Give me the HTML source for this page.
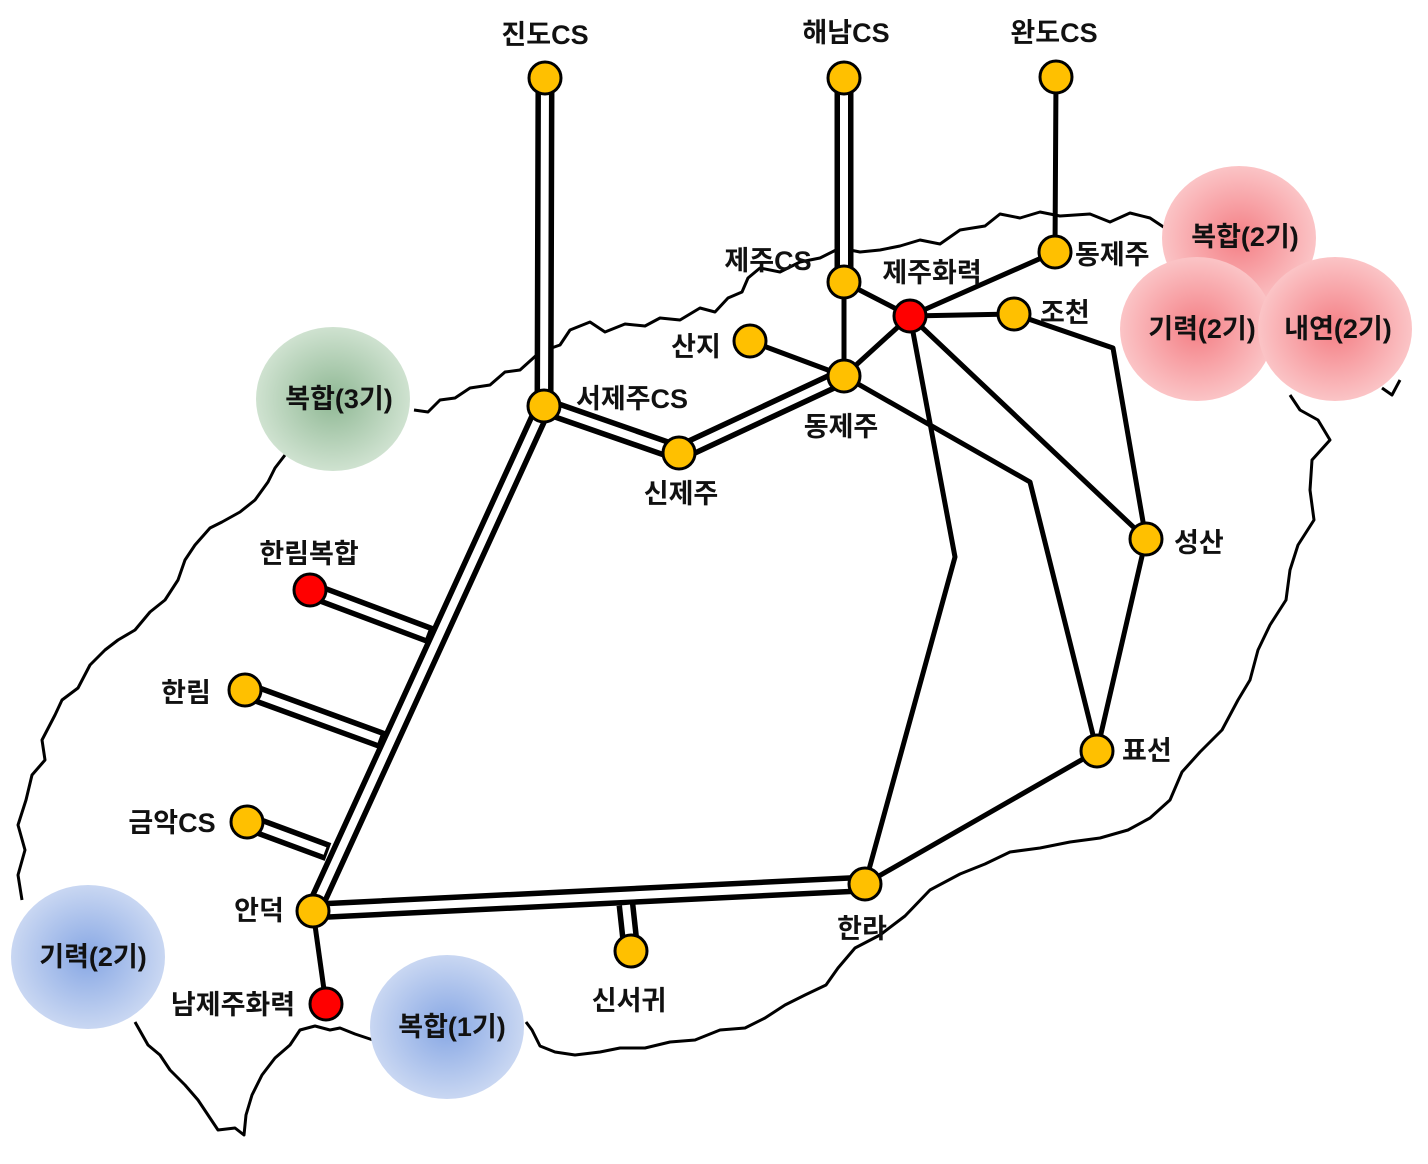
<!DOCTYPE html>
<html><head><meta charset="utf-8"><style>
html,body{margin:0;padding:0;background:#fff}
svg text{font-family:"Liberation Sans","Noto Sans CJK KR",sans-serif;font-weight:bold;font-size:27px;fill:#111}
</style></head><body>
<svg width="1428" height="1159" viewBox="0 0 1428 1159" xmlns="http://www.w3.org/2000/svg">
<defs>
<radialGradient id="gg"><stop offset="0" stop-color="#8fb894"/><stop offset="1" stop-color="#cfe2d0"/></radialGradient>
<radialGradient id="pg"><stop offset="0" stop-color="#f47f85"/><stop offset="1" stop-color="#fbc4c6"/></radialGradient>
<radialGradient id="bg"><stop offset="0" stop-color="#87a7e4"/><stop offset="1" stop-color="#c9d7f2"/></radialGradient>
</defs>
<g fill="none" stroke="#000" stroke-width="3" stroke-linejoin="round">
<path d="M414,410 L428,412 440,400 455,398 470,388 490,385 505,372 520,370 540,352 560,345 570,330 590,322 605,332 625,324 645,326 660,318 680,320 700,308 715,312 728,298 742,292 748,278 760,268 780,272 800,262 820,258 840,248 860,252 880,250 900,246 920,240 940,244 960,230 985,226 1000,214 1020,218 1040,212 1060,216 1090,214 1110,222 1130,213 1150,218 1165,228"/>
<path d="M1290,395 L1300,410 1318,420 1330,440 1312,460 1310,490 1314,520 1298,545 1290,570 1286,600 1270,625 1258,650 1250,680 1238,700 1222,730 1200,752 1182,772 1170,800 1150,818 1128,830 1100,838 1070,842 1040,848 1010,852 985,864 960,874 930,890 905,916 880,935 855,948 838,968 826,985 805,995 785,1005 765,1018 745,1028 720,1030 695,1040 670,1042 645,1048 620,1048 600,1052 575,1055 555,1052 540,1046 532,1030 526,1022"/>
<path d="M373,1040 L355,1034 340,1028 330,1030 315,1026 300,1030 290,1045 275,1058 262,1075 252,1095 246,1115 244,1135 235,1128 218,1130 208,1115 198,1100 185,1085 170,1070 160,1055 148,1045 135,1022"/>
<path d="M22,900 L18,875 25,850 18,825 26,800 32,775 45,760 42,740 55,715 62,700 78,688 90,665 105,650 118,640 135,630 150,612 165,600 178,580 185,560 195,545 210,528 222,522 240,512 255,500 268,482 275,468 285,455"/>
<path d="M1400,380 L1392,395 1382,388"/>
</g>
<ellipse cx="333" cy="399" rx="77" ry="72" fill="url(#gg)"/>
<ellipse cx="1239" cy="238" rx="77" ry="72" fill="url(#pg)"/>
<ellipse cx="1197" cy="329" rx="77" ry="72" fill="url(#pg)"/>
<ellipse cx="1335" cy="329" rx="77" ry="72" fill="url(#pg)"/>
<ellipse cx="88" cy="957" rx="77" ry="72" fill="url(#bg)"/>
<ellipse cx="447" cy="1027" rx="77" ry="72" fill="url(#bg)"/>
<g fill="none" stroke="#000" stroke-width="5" stroke-linejoin="round">
<path d="M1056,77 L1055,252 L910,316"/>
<path d="M844,282 L910,316"/>
<path d="M844,282 L844,376 L910,316"/>
<path d="M750,341 L844,376"/>
<path d="M910,316 L1014,314 L1113,348 L1146,539 L1097,751 L865,884 L955,557 L910,316 L1146,539"/>
<path d="M844,376 L1030,482 L1097,751"/>
<path d="M313,911 L326,1004"/>
</g>
<g fill="none" stroke-linejoin="round">
<g stroke="#000" stroke-width="19">
<path d="M545,78 L544,406 L679,453 L844,376"/>
<path d="M844,78 L844,282"/>
<path d="M544,406 L313,911 L865,884"/>
<path d="M310,590 L430,635"/>
<path d="M245,690 L382,740"/>
<path d="M247,822 L328,852"/>
<path d="M626,905 L631,951"/>
</g>
<g stroke="#fff" stroke-width="8">
<path d="M545,78 L544,406 L679,453 L844,376"/>
<path d="M844,78 L844,282"/>
<path d="M626,905 L631,951"/>
<path d="M310,590 L427,634"/>
<path d="M245,690 L379,739"/>
<path d="M247,822 L325,851"/>
<path d="M544,406 L313,911 L865,884"/>
</g>
</g>
<g stroke="#000" stroke-width="3">
<g fill="#ffc000">
<circle cx="545" cy="78" r="16"/><circle cx="844" cy="78" r="16"/><circle cx="1056" cy="77" r="16"/>
<circle cx="1055" cy="252" r="16"/><circle cx="844" cy="282" r="16"/><circle cx="1014" cy="314" r="16"/>
<circle cx="750" cy="341" r="16"/><circle cx="844" cy="376" r="16"/><circle cx="544" cy="406" r="16"/>
<circle cx="679" cy="453" r="16"/><circle cx="1146" cy="539" r="16"/><circle cx="245" cy="690" r="16"/>
<circle cx="247" cy="822" r="16"/><circle cx="1097" cy="751" r="16"/><circle cx="865" cy="884" r="16"/>
<circle cx="313" cy="911" r="16"/><circle cx="631" cy="951" r="16"/>
</g>
<g fill="#ff0000">
<circle cx="910" cy="316" r="16"/><circle cx="310" cy="590" r="16"/><circle cx="326" cy="1004" r="16"/>
</g>
</g>
<text x="545" y="44" text-anchor="middle">진도CS</text>
<text x="846" y="42" text-anchor="middle">해남CS</text>
<text x="1054" y="42" text-anchor="middle">완도CS</text>
<text x="1075" y="264">동제주</text>
<text x="768" y="270" text-anchor="middle">제주CS</text>
<text x="932" y="282" text-anchor="middle">제주화력</text>
<text x="1040" y="322">조천</text>
<text x="696" y="356" text-anchor="middle">산지</text>
<text x="576" y="408">서제주CS</text>
<text x="841" y="436" text-anchor="middle">동제주</text>
<text x="681" y="503" text-anchor="middle">신제주</text>
<text x="1174" y="552">성산</text>
<text x="309" y="563" text-anchor="middle">한림복합</text>
<text x="186" y="702" text-anchor="middle">한림</text>
<text x="172" y="832" text-anchor="middle">금악CS</text>
<text x="1122" y="760">표선</text>
<text x="862" y="938" text-anchor="middle">한라</text>
<text x="259" y="920" text-anchor="middle">안덕</text>
<text x="629" y="1010" text-anchor="middle">신서귀</text>
<text x="233" y="1014" text-anchor="middle">남제주화력</text>
<text x="339" y="408" text-anchor="middle">복합(3기)</text>
<text x="1245" y="246" text-anchor="middle">복합(2기)</text>
<text x="1202" y="338" text-anchor="middle">기력(2기)</text>
<text x="1338" y="338" text-anchor="middle">내연(2기)</text>
<text x="93" y="966" text-anchor="middle">기력(2기)</text>
<text x="452" y="1036" text-anchor="middle">복합(1기)</text>
</svg>
</body></html>
